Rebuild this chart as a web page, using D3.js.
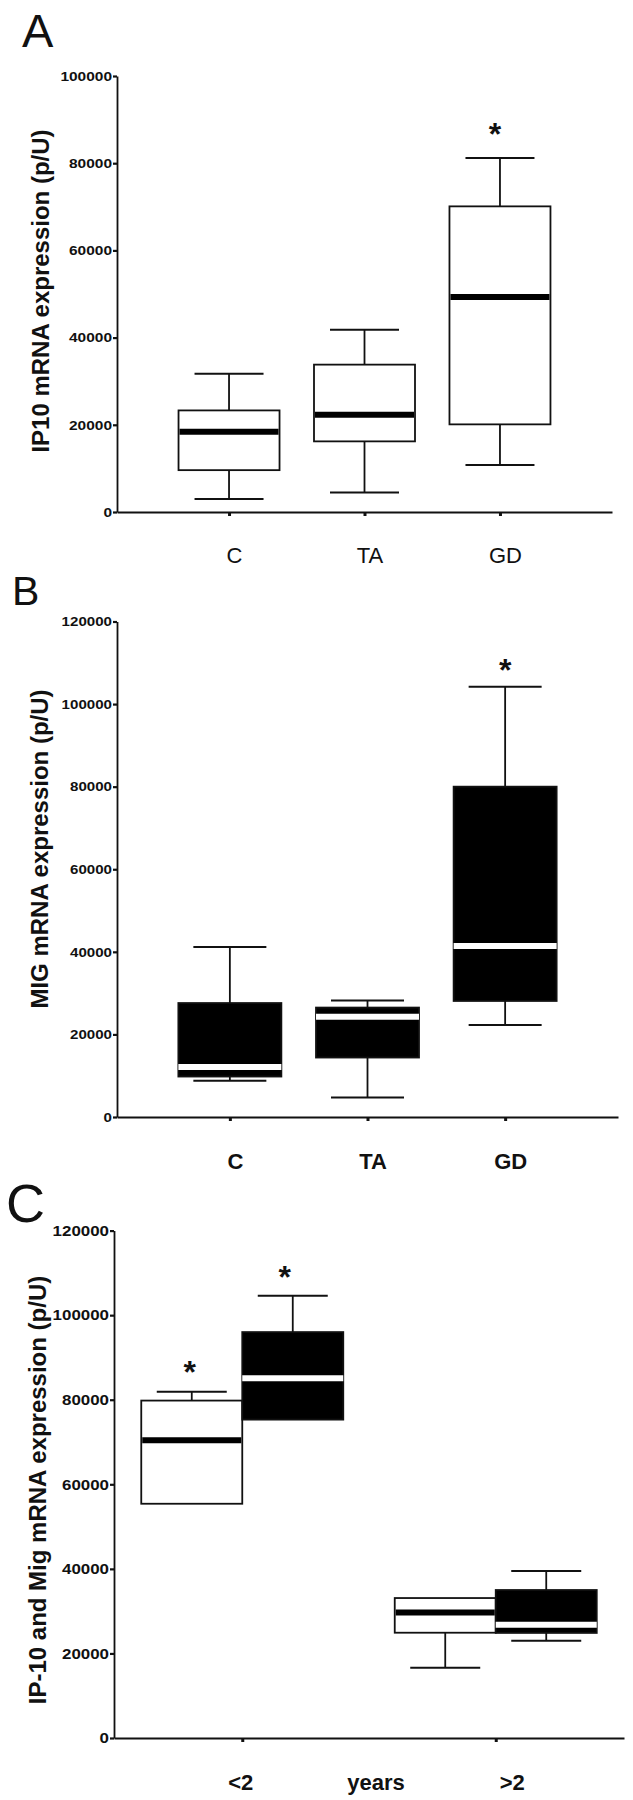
<!DOCTYPE html>
<html><head><meta charset="utf-8">
<script src="https://cdn.jsdelivr.net/npm/d3@7"></script>
<style>body{margin:0;background:#fff} svg{display:block}</style>
</head><body>
<svg id="chart" width="633" height="1800"></svg>
<script>
// ---------------- DATA ----------------
const catsAB = ["C", "TA", "GD"];
// Panel A: IP10 mRNA expression (p/U)
const ipHi  = [31700, 41800, 81200];
const ipQ3  = [23300, 33800, 70100];
const ipMed = [18400, 22300, 49300];
const ipQ1  = [9600, 16200, 20100];
const ipLo  = [3000, 4500, 10800];
const ipStar = [null, null, 88000];
const ticksA = [0, 20000, 40000, 60000, 80000, 100000];
// Panel B: MIG mRNA expression (p/U)
const migHi  = [41200, 28200, 104200];
const migQ3  = [27600, 26500, 80000];
const migMed = [12100, 24300, 41400];
const migQ1  = [9800, 14400, 28100];
const migLo  = [8800, 4700, 22300];
const migStar = [null, null, 109600];
const ticksB = [0, 20000, 40000, 60000, 80000, 100000, 120000];
// Panel C: by disease duration
const groupsC = ["<2", ">2"];
const cIpHi  = [81900, 33100];
const cIpQ3  = [79800, 33100];
const cIpMed = [70400, 29700];
const cIpQ1  = [55400, 24900];
const cIpLo  = [55400, 16600];
const cIpStar = [88000, null];
const cMigHi  = [104600, 39500];
const cMigQ3  = [96000, 35000];
const cMigMed = [85100, 26800];
const cMigQ1  = [75300, 24850];
const cMigLo  = [75300, 23000];
const cMigStar = [110500, null];
const ticksC = [0, 20000, 40000, 60000, 80000, 100000, 120000];

// ---------------- DRAWING ----------------
const FONT = "'Liberation Sans', Arial, Helvetica, sans-serif";
const svg = d3.select("#chart").style("font-family", FONT);

function yAxis(g, y, ticks, x0, fs, digitW) {
  const ax = g.append("g").attr("transform", `translate(${x0},0)`)
    .call(d3.axisLeft(y).tickValues(ticks).tickFormat(d3.format("d"))
      .tickSize(4).tickPadding(1).tickSizeOuter(0));
  ax.select(".domain").attr("stroke", "#111").attr("stroke-width", 1.8);
  ax.selectAll(".tick line").attr("stroke", "#111").attr("stroke-width", 2.2);
  ax.selectAll(".tick text").attr("fill", "#111")
    .style("font-family", FONT).style("font-size", fs + "px").style("font-weight", "bold")
    .attr("textLength", d => String(d).length * digitW)
    .attr("lengthAdjust", "spacingAndGlyphs");
  return ax;
}

function xAxis(g, x, yPos, pad, fs, weight, dx) {
  const ax = g.append("g").attr("transform", `translate(0,${yPos})`)
    .call(d3.axisBottom(x).tickSize(4).tickPadding(pad).tickSizeOuter(0));
  ax.select(".domain").attr("stroke", "#111").attr("stroke-width", 1.8);
  ax.selectAll(".tick line").attr("stroke", "#111").attr("stroke-width", 3);
  ax.selectAll(".tick text").attr("fill", "#111").attr("dx", dx)
    .style("font-family", FONT).style("font-size", fs + "px").style("font-weight", weight);
  return ax;
}

function box(g, x0, w, capW, y, hi, q3, med, q1, lo, filled) {
  const cx = x0 + w / 2;
  const s = "#111";
  if (hi > q3) {
    g.append("line").attr("x1", cx).attr("x2", cx).attr("y1", y(hi)).attr("y2", y(q3))
      .attr("stroke", s).attr("stroke-width", 1.8);
    g.append("line").attr("x1", cx - capW / 2).attr("x2", cx + capW / 2).attr("y1", y(hi)).attr("y2", y(hi))
      .attr("stroke", s).attr("stroke-width", 2);
  }
  if (lo < q1) {
    g.append("line").attr("x1", cx).attr("x2", cx).attr("y1", y(q1)).attr("y2", y(lo))
      .attr("stroke", s).attr("stroke-width", 1.8);
    g.append("line").attr("x1", cx - capW / 2).attr("x2", cx + capW / 2).attr("y1", y(lo)).attr("y2", y(lo))
      .attr("stroke", s).attr("stroke-width", 2);
  }
  g.append("rect").attr("x", x0).attr("y", y(q3)).attr("width", w).attr("height", y(q1) - y(q3))
    .attr("fill", filled ? "#000" : "#fff").attr("stroke", s).attr("stroke-width", 1.8);
  g.append("line").attr("x1", x0 + (filled ? 0 : 1)).attr("x2", x0 + w - (filled ? 0 : 1))
    .attr("y1", y(med)).attr("y2", y(med))
    .attr("stroke", filled ? "#fff" : "#000").attr("stroke-width", 6);
}

function star(g, cx, yv, y) {
  g.append("text").attr("x", cx).attr("y", y(yv) + 17).attr("text-anchor", "middle")
    .style("font-size", "32px").style("font-weight", "bold").attr("fill", "#111").text("*");
}

function title(g, x, cy, txt) {
  g.append("text").attr("transform", `translate(${x},${cy}) rotate(-90)`).attr("text-anchor", "middle")
    .style("font-size", "24px").style("font-weight", "bold").attr("fill", "#111").text(txt);
}

function letter(g, x, yb, fs, txt) {
  g.append("text").attr("x", x).attr("y", yb).style("font-size", fs + "px").attr("fill", "#111").text(txt);
}

// ---- Panel A ----
{
  const g = svg.append("g");
  const y = d3.scaleLinear().domain([0, 100000]).range([512, 76]);
  const x = d3.scalePoint().domain(catsAB).range([117, 612]).padding(0.827);
  letter(g, 22, 47, 47, "A");
  title(g, 49, 291, "IP10 mRNA expression (p/U)");
  const bw = 101, cw = 69;
  catsAB.forEach((c, i) => {
    box(g, x(c) - bw / 2, bw, cw, y, ipHi[i], ipQ3[i], ipMed[i], ipQ1[i], ipLo[i], false);
    if (ipStar[i] != null) star(g, x(c) - 5, ipStar[i], y);
  });
  yAxis(g, y, ticksA, 117, 13.5, 8.6);
  xAxis(g, x, 512, 31, 22, "normal", 5);
}

// ---- Panel B ----
{
  const g = svg.append("g");
  const y = d3.scaleLinear().domain([0, 120000]).range([1117, 621.5]);
  const x = d3.scalePoint().domain(catsAB).range([117, 618]).padding(0.82);
  letter(g, 12, 605, 41, "B");
  title(g, 48, 849, "MIG mRNA expression (p/U)");
  const bw = 103, cw = 73;
  catsAB.forEach((c, i) => {
    box(g, x(c) - bw / 2, bw, cw, y, migHi[i], migQ3[i], migMed[i], migQ1[i], migLo[i], true);
    if (migStar[i] != null) star(g, x(c), migStar[i], y);
  });
  yAxis(g, y, ticksB, 117, 13.5, 8.4);
  xAxis(g, x, 1117, 32, 22, "bold", 5);
}

// ---- Panel C ----
{
  const g = svg.append("g");
  const y = d3.scaleLinear().domain([0, 120000]).range([1738, 1230.6]);
  const x = d3.scalePoint().domain(groupsC).range([114, 624]).padding(0.506);
  letter(g, 6, 1222, 54, "C");
  title(g, 46, 1490, "IP-10 and Mig mRNA expression (p/U)");
  const bw = 101, cw = 70;
  groupsC.forEach((c, i) => {
    box(g, x(c) - bw, bw, cw, y, cIpHi[i], cIpQ3[i], cIpMed[i], cIpQ1[i], cIpLo[i], false);
    box(g, x(c), bw, cw, y, cMigHi[i], cMigQ3[i], cMigMed[i], cMigQ1[i], cMigLo[i], true);
    if (cIpStar[i] != null) star(g, x(c) - bw / 2 - 2, cIpStar[i], y);
    if (cMigStar[i] != null) star(g, x(c) + bw / 2 - 8, cMigStar[i], y);
  });
  yAxis(g, y, ticksC, 114, 15, 9.4);
  const ax = xAxis(g, x, 1738, 32, 22, "bold", 0);
  const shift = {"<2": -2, ">2": 16};
  ax.selectAll(".tick text").attr("dx", d => shift[d]);
  g.append("text").attr("x", (x(groupsC[0]) + x(groupsC[1])) / 2 + 7).attr("y", 1790)
    .attr("text-anchor", "middle").style("font-size", "22px").style("font-weight", "bold")
    .attr("fill", "#111").text("years");
}
</script>
</body></html>
